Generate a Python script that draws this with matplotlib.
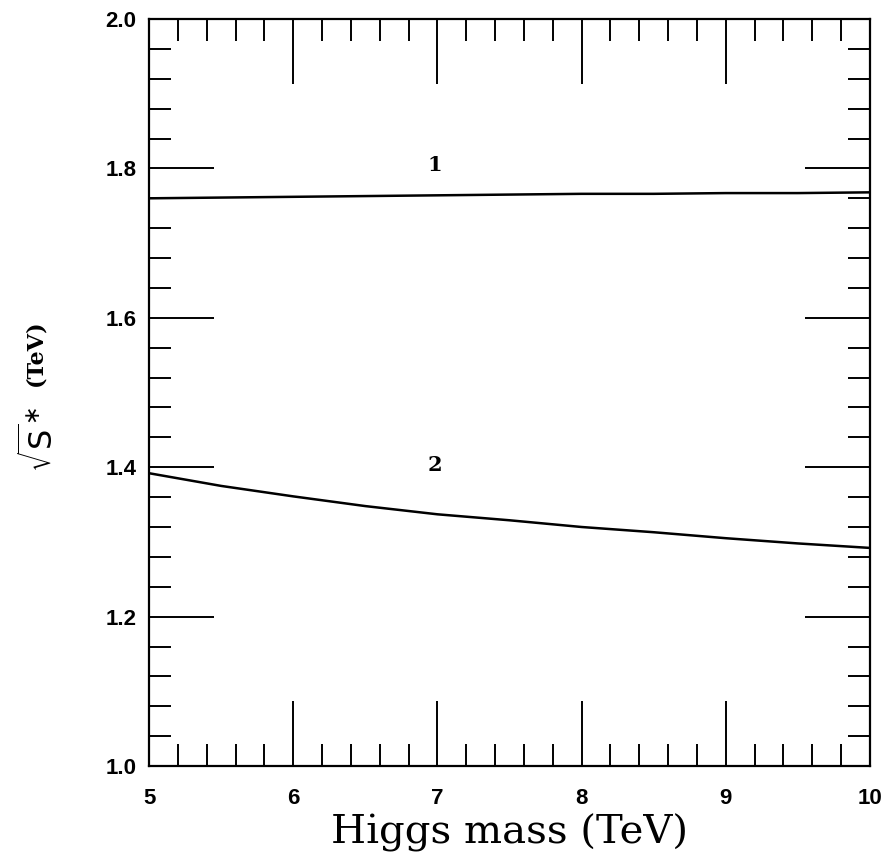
import numpy as np
import matplotlib
matplotlib.use('Agg')
import matplotlib.pyplot as plt
from matplotlib.ticker import MultipleLocator

# Higgs mass (TeV) and sqrt(s*) (TeV) for the two curves
higgsMass = [5, 5.5, 6, 6.5, 7, 7.5, 8, 8.5, 9, 9.5, 10]
curve1 = [1.760, 1.761, 1.762, 1.763, 1.764, 1.765, 1.766, 1.766, 1.767, 1.767, 1.768]
curve2 = [1.392, 1.375, 1.361, 1.348, 1.337, 1.329, 1.320, 1.313, 1.305, 1.298, 1.292]
curveLabels = ['1', '2']
labelPos = [(6.98, 1.805), (6.98, 1.403)]

fig = plt.figure(figsize=(8.93, 8.65), dpi=100)
ax = fig.add_axes([0.1669, 0.1144, 0.8073, 0.8636])

ax.plot(higgsMass, curve1, color='black', lw=1.8)
ax.plot(higgsMass, curve2, color='black', lw=1.8)
for lab, (x, y) in zip(curveLabels, labelPos):
    ax.text(x, y, lab, ha='center', va='center', fontsize=15,
            fontweight='bold', family='DejaVu Serif')

ax.set_xlim(5, 10)
ax.set_ylim(1.0, 2.0)
ax.xaxis.set_major_locator(MultipleLocator(1))
ax.xaxis.set_minor_locator(MultipleLocator(0.2))
ax.yaxis.set_major_locator(MultipleLocator(0.2))
ax.yaxis.set_minor_locator(MultipleLocator(0.04))
ax.yaxis.set_major_formatter(matplotlib.ticker.FormatStrFormatter('%.1f'))

ax.tick_params(which='both', direction='in', top=True, right=True, color='black')
ax.tick_params(which='major', length=47, width=1.4)
ax.tick_params(which='minor', length=16, width=1.4)
ax.tick_params(axis='x', which='major', pad=16)
ax.tick_params(axis='y', which='major', pad=9)
for spine in ax.spines.values():
    spine.set_linewidth(1.6)

for lab in ax.get_xticklabels() + ax.get_yticklabels():
    lab.set_fontsize(16)
    lab.set_fontweight('bold')
    lab.set_family('Liberation Sans')

ax.set_xlabel('Higgs mass (TeV)', fontsize=29, family='DejaVu Serif', labelpad=3)
fig.text(0.046, 1 - 440 / 865, r'$\sqrt{\mathsf{S}}^{\ast}$', rotation=90,
         fontsize=23, ha='center', va='center')
fig.text(0.040, 1 - 353 / 865, '(TeV)', rotation=90, fontsize=16,
         fontweight='bold', family='DejaVu Serif', ha='center', va='center')

fig.savefig('out.png', dpi=100)
